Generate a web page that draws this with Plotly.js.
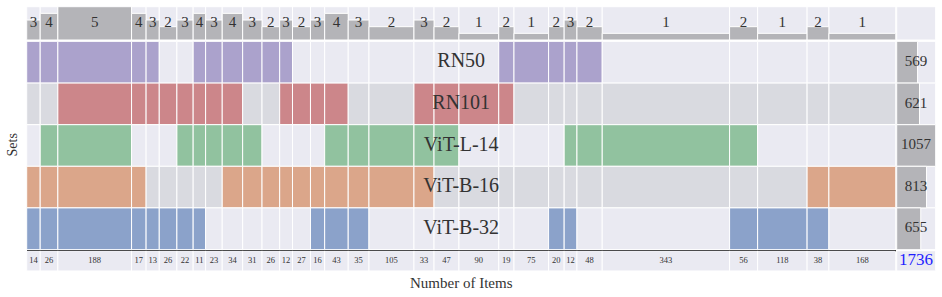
<!DOCTYPE html>
<html>
<head>
<meta charset="utf-8">
<script src="https://cdn.plot.ly/plotly-3.0.1.min.js"></script>
<style>html,body{margin:0;padding:0;background:#fff;}#chart{width:942px;height:297px;}</style>
</head>
<body>
<div id="chart"></div>
<script>
// ---- data ----
const sets = ['RN50', 'RN101', 'ViT-L-14', 'ViT-B-16', 'ViT-B-32'];
const setSizes = [569, 621, 1057, 813, 655];
const counts = [14, 26, 188, 17, 13, 26, 22, 11, 23, 34, 31, 26, 12, 27, 16, 43, 35, 105, 33, 47, 90, 19, 75, 20, 12, 48, 343, 56, 118, 38, 168];
// membership per column, characters in order of `sets`
const membership = ['10011', '10111', '11111', '11011', '11001', '01001', '01101', '11101', '11100', '11110',
  '10110', '10010', '11010', '01010', '01011', '01111', '00111', '00110', '01110', '01100',
  '01000', '11000', '10000', '10001', '10101', '10100', '00100', '00101', '00001', '00011', '00010'];

// ---- style ----
const PAD = 25;
const setColors = ['#aba2cc', '#cc868a', '#91c29f', '#dba68a', '#8ba2ca'];
const LAV = '#eaeaf2', GRAYROW = '#d9dae0', BARGRAY = '#b4b4b8', TXT = '#333333';
const FONT = 'Liberation Serif, DejaVu Serif, serif';
const W = 942, H = 297;

// ---- derived geometry ----
const widths = counts.map(c => c + PAD);
const centers = [];
let acc = 0;
widths.forEach(w => { centers.push(acc + w / 2); acc += w; });
const totalW = acc;
const degrees = membership.map(m => m.split('').filter(ch => ch === '1').length);
const total = counts.reduce((a, b) => a + b, 0);
const maxSet = Math.max(...setSizes);
const nSets = sets.length;

const line = {color: '#ffffff', width: 1};
const traces = [];

// top section: background + degree bars
traces.push({type: 'bar', x: centers, y: centers.map(() => 5), width: widths, xaxis: 'x', yaxis: 'y',
  marker: {color: LAV, line: line}, hoverinfo: 'skip'});
traces.push({type: 'bar', x: centers, y: degrees, width: widths, xaxis: 'x', yaxis: 'y',
  marker: {color: BARGRAY, line: line}, hoverinfo: 'skip'});
traces.push({type: 'scatter', mode: 'text', x: centers, y: centers.map(() => 2.5), text: degrees.map(String),
  xaxis: 'x', yaxis: 'y', textfont: {family: FONT, size: 15, color: TXT}, hoverinfo: 'skip'});
// top-right empty cell
traces.push({type: 'bar', orientation: 'h', y: [2.5], x: [maxSet], width: [5], xaxis: 'x2', yaxis: 'y',
  marker: {color: LAV, line: line}, hoverinfo: 'skip'});

// matrix rows
sets.forEach((s, r) => {
  const bg = (r % 2 === 0) ? LAV : GRAYROW;
  const cols = membership.map(m => m[r] === '1' ? setColors[r] : bg);
  traces.push({type: 'bar', x: centers, y: centers.map(() => 1), base: centers.map(() => nSets - 1 - r),
    width: widths, xaxis: 'x', yaxis: 'y2', marker: {color: cols, line: line}, hoverinfo: 'skip'});
});
// row labels
traces.push({type: 'scatter', mode: 'text', x: sets.map(() => totalW / 2), y: sets.map((s, r) => nSets - 0.5 - r),
  text: sets, xaxis: 'x', yaxis: 'y2', textfont: {family: FONT, size: 20, color: TXT}, hoverinfo: 'skip'});

// right panel: set sizes
const rowY = sets.map((s, r) => nSets - 0.5 - r);
traces.push({type: 'bar', orientation: 'h', y: rowY, x: sets.map(() => maxSet), width: sets.map(() => 1),
  xaxis: 'x2', yaxis: 'y2', marker: {color: LAV, line: line}, hoverinfo: 'skip'});
traces.push({type: 'bar', orientation: 'h', y: rowY, x: setSizes, width: sets.map(() => 1),
  xaxis: 'x2', yaxis: 'y2', marker: {color: BARGRAY, line: line}, hoverinfo: 'skip'});
traces.push({type: 'scatter', mode: 'text', y: rowY, x: sets.map(() => maxSet / 2), text: setSizes.map(String),
  xaxis: 'x2', yaxis: 'y2', textfont: {family: FONT, size: 15, color: TXT}, hoverinfo: 'skip'});

// bottom counts
traces.push({type: 'bar', x: centers, y: centers.map(() => 1), width: widths, xaxis: 'x', yaxis: 'y3',
  marker: {color: LAV, line: line}, hoverinfo: 'skip'});
traces.push({type: 'scatter', mode: 'text', x: centers, y: centers.map(() => 0.5), text: counts.map(String),
  xaxis: 'x', yaxis: 'y3', textfont: {family: FONT, size: 8.5, color: TXT}, hoverinfo: 'skip'});
traces.push({type: 'bar', orientation: 'h', y: [0.5], x: [maxSet], width: [1], xaxis: 'x2', yaxis: 'y3',
  marker: {color: LAV, line: line}, hoverinfo: 'skip'});
traces.push({type: 'scatter', mode: 'text', y: [0.5], x: [maxSet / 2], text: [String(total)],
  xaxis: 'x2', yaxis: 'y3', textfont: {family: FONT, size: 17, color: '#1f1fff'}, hoverinfo: 'skip'});

const px = v => v / W;
const py = v => 1 - v / H;
const hid = {showgrid: false, zeroline: false, showticklabels: false, ticks: '', showline: false, fixedrange: true};

const layout = {
  width: W, height: H,
  margin: {l: 0, r: 0, t: 0, b: 0},
  paper_bgcolor: '#ffffff', plot_bgcolor: 'rgba(0,0,0,0)',
  showlegend: false, barmode: 'overlay', bargap: 0,
  xaxis: Object.assign({}, hid, {domain: [px(26.7), px(895.7)], range: [0, totalW], anchor: 'y2',
    showline: true, linecolor: '#111111', linewidth: 2, side: 'bottom'}),
  xaxis2: Object.assign({}, hid, {domain: [px(896.7), px(935.5)], range: [0, maxSet], anchor: 'y2'}),
  yaxis: Object.assign({}, hid, {domain: [py(40), py(6.7)], range: [0, 5], anchor: 'x'}),
  yaxis2: Object.assign({}, hid, {domain: [py(249.5), py(41.5)], range: [0, nSets], anchor: 'x'}),
  yaxis3: Object.assign({}, hid, {domain: [py(271), py(250.7)], range: [0, 1], anchor: 'x'}),
  annotations: [
    {text: 'Sets', xref: 'paper', yref: 'paper', x: px(12), y: py(145.5), showarrow: false, textangle: -90,
      xanchor: 'center', yanchor: 'middle', font: {family: FONT, size: 14, color: TXT}},
    {text: 'Number of Items', xref: 'paper', yref: 'paper', x: px(461), y: py(283), showarrow: false,
      xanchor: 'center', yanchor: 'middle', font: {family: FONT, size: 15, color: TXT}}
  ]
};

Plotly.newPlot('chart', traces, layout, {displayModeBar: false, staticPlot: true});
</script>
</body>
</html>
